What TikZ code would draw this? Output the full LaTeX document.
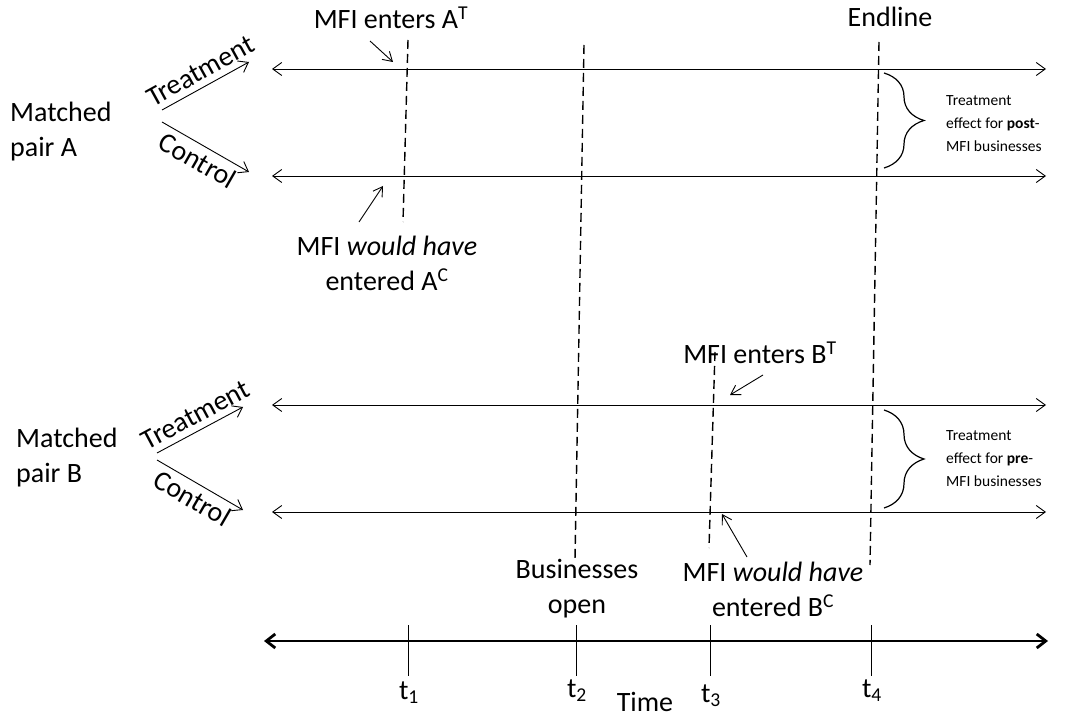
\documentclass[tikz,border=0pt]{standalone}
\usepackage{fontspec}
\setmainfont{Carlito}
\usetikzlibrary{arrows.meta,positioning,decorations.pathreplacing}

\begin{document}
\begin{tikzpicture}[
  x=1pt, y=-1pt,
  lbl/.style={inner sep=0pt, align=center, font=\fontsize{28}{35}\selectfont},
  note/.style={inner sep=0pt, align=left, font=\fontsize{15.5}{23}\selectfont},
  branch/.style={-{Straight Barb[length=9pt,width=13pt]}, line width=0.9pt},
  track/.style={{Straight Barb[length=9pt,width=13pt]}-{Straight Barb[length=9pt,width=13pt]}, line width=0.9pt},
  pointer/.style={-{Straight Barb[length=9pt,width=11pt]}, line width=0.9pt},
  event/.style={dashed, dash pattern=on 9pt off 5pt, line width=1.4pt},
  tick/.style={line width=0.9pt},
  effect/.style={decorate, decoration={brace, amplitude=40pt}, line width=1.2pt}
]
\useasboundingbox (0,0) rectangle (1069,719);

% Matched pair A
\node[lbl, align=left, anchor=west] (pairA) at (10,132) {Matched\\pair A};
\coordinate (brA0) at (162,110); \coordinate (brA1) at (249,62);
\coordinate (brA2) at (162,122); \coordinate (brA3) at (249,172);
\draw[branch] (brA0) -- node[lbl, sloped, above=6pt, xshift=3pt] (treatA) {Treatment} (brA1);
\draw[branch] (brA2) -- node[lbl, sloped, below=5pt] (ctrlA) {Control} (brA3);

\coordinate (trA0) at (272,69);  \coordinate (trA1) at (1046,69);
\coordinate (coA0) at (272,176); \coordinate (coA1) at (1046,176);
\draw[track] (trA0) -- (trA1);
\draw[track] (coA0) -- (coA1);

% Matched pair B
\node[lbl, align=left, anchor=west] (pairB) at (16,458) {Matched\\pair B};
\coordinate (brB0) at (157,453); \coordinate (brB1) at (243,407);
\coordinate (brB2) at (157,460); \coordinate (brB3) at (243,510);
\draw[branch] (brB0) -- node[lbl, sloped, above=6pt, xshift=3pt] (treatB) {Treatment} (brB1);
\draw[branch] (brB2) -- node[lbl, sloped, below=5pt] (ctrlB) {Control} (brB3);

\coordinate (trB0) at (272,405); \coordinate (trB1) at (1046,405);
\coordinate (coB0) at (272,512); \coordinate (coB1) at (1046,512);
\draw[track] (trB0) -- (trB1);
\draw[track] (coB0) -- (coB1);

% Dashed event lines
\coordinate (evA0) at (408,40);  \coordinate (evA1) at (403,222);
\coordinate (open0) at (584,45); \coordinate (open1) at (575,560);
\coordinate (evB0) at (715,352); \coordinate (evB1) at (709,548);
\coordinate (end0) at (879,42);  \coordinate (end1) at (870,565);
\draw[event] (evA0) -- (evA1);
\draw[event] (open0) -- (open1);
\draw[event] (evB0) -- (evB1);
\draw[event] (end0) -- (end1);

% Event labels
\node[lbl] (entA) at (391,18) {MFI enters A\textsuperscript{T}};
\node[lbl] (endl) at (890,17) {Endline};
\node[lbl] (wouldA) at (387,263) {MFI \textit{would have}\\entered A\textsuperscript{C}};
\node[lbl] (entB) at (760,353) {MFI enters B\textsuperscript{T}};
\node[lbl] (busopen) at (577,589) {Businesses\\open};
\node[lbl] (wouldB) at (773,589) {MFI \textit{would have}\\entered B\textsuperscript{C}};

\coordinate (pA0) at (370,41);  \coordinate (pA1) at (393,62);
\coordinate (pA2) at (359,222); \coordinate (pA3) at (383,186);
\coordinate (pB0) at (763,375); \coordinate (pB1) at (730,395);
\coordinate (pB2) at (747,557); \coordinate (pB3) at (722,514);
\draw[pointer] (pA0) -- (pA1);
\draw[pointer] (pA2) -- (pA3);
\draw[pointer] (pB0) -- (pB1);
\draw[pointer] (pB2) -- (pB3);

% Treatment effects
\coordinate (effA0) at (884,73);  \coordinate (effA1) at (884,168);
\coordinate (effB0) at (884,410); \coordinate (effB1) at (884,508);
\draw[effect] (effA0) -- (effA1);
\draw[effect] (effB0) -- (effB1);
\node[note, anchor=west] (noteA) at (946,124) {Treatment\\effect for \textbf{post}-\\MFI businesses};
\node[note, anchor=west] (noteB) at (946,459) {Treatment\\effect for \textbf{pre}-\\MFI businesses};

% Time axis
\coordinate (ax0) at (264,641); \coordinate (ax1) at (1048,641);
\draw[{Straight Barb[length=9pt,width=14pt]}-{Straight Barb[length=9pt,width=14pt]}, line width=2.8pt] (ax0) -- (ax1);
\foreach \x/\n/\s in {408/1/693, 576/2/691, 710/3/696, 871/4/691} {
  \coordinate (tk\n) at (\x,625);
  \draw[tick] (tk\n) -- ++(0,51);
  \node[lbl] (t\n) at (\x+1,\s) {t\textsubscript{\n}};
}
\node[lbl] (time) at (645,702) {Time};

\end{tikzpicture}
\end{document}
